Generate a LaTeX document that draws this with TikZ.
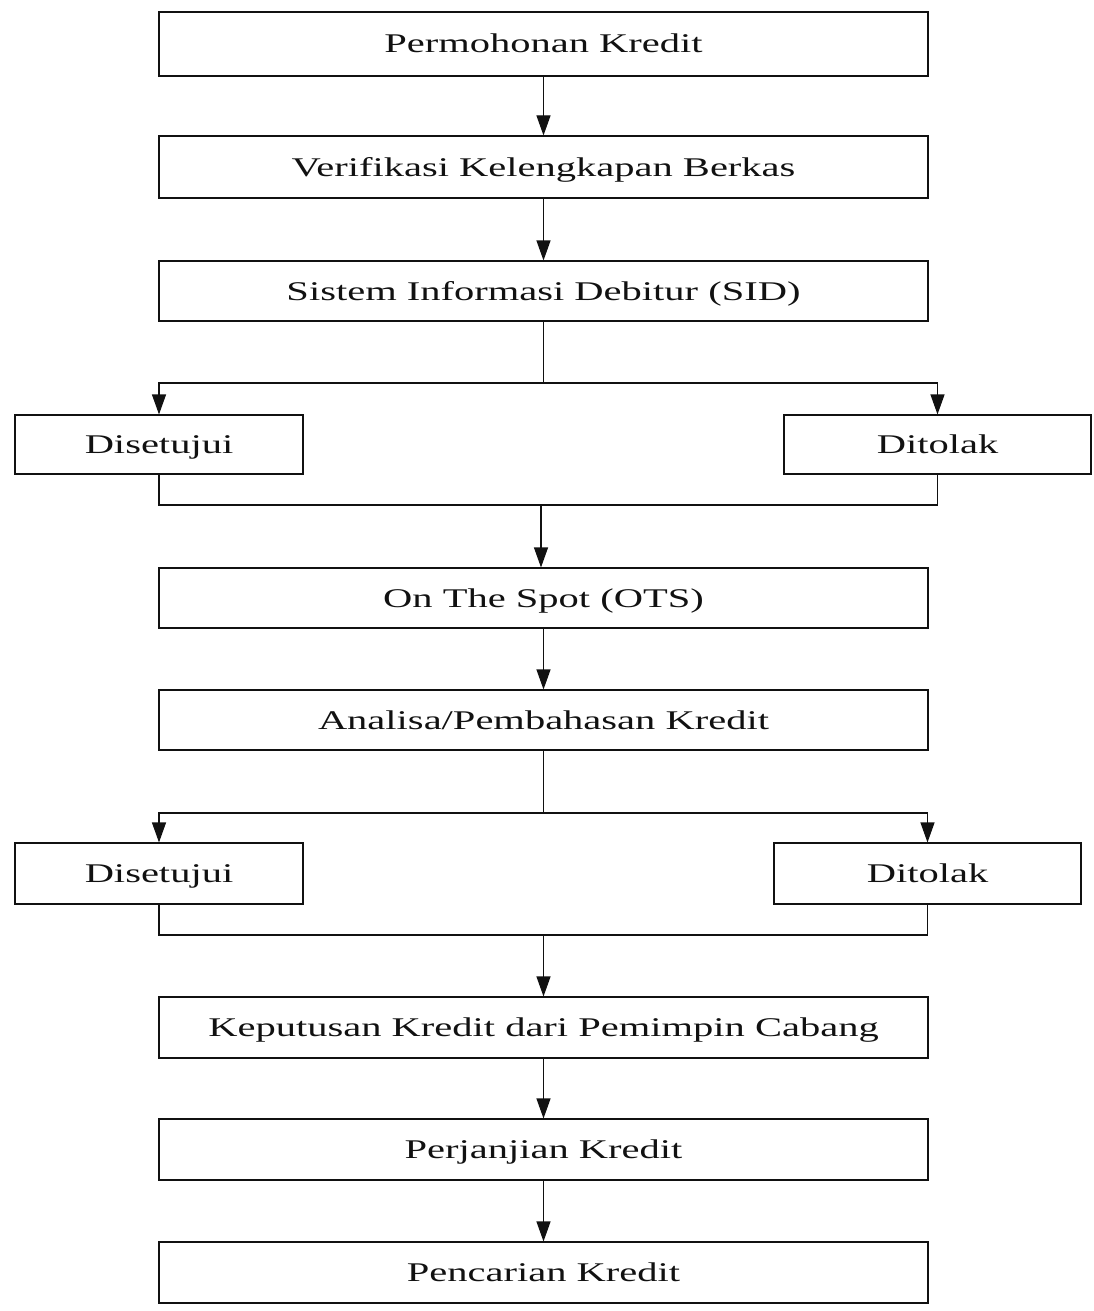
\documentclass[tikz,border=0pt]{standalone}
\usepackage{fontspec}
\setmainfont{Liberation Serif}
\newfontfamily\wideserif[FakeStretch=1.5]{Liberation Serif}
\usepackage{tikz}
\usetikzlibrary{arrows.meta,positioning,calc}
\definecolor{Ink}{HTML}{111111}
\tikzset{
  flow/.style={draw=Ink,line width=1.1pt,minimum height=61pt,inner sep=0pt,text height=24pt,text depth=6pt,align=center,text=Ink,font=\wideserif\fontsize{27}{30}\selectfont},
  flowwide/.style={flow,minimum width=769pt},
  flowside/.style={flow,minimum width=288pt},
  link/.style={draw=Ink,line width=1.1pt},
  arrow/.style={link,-{Triangle[length=20pt,width=14pt]}}
}
\begin{document}
\begin{tikzpicture}[x=1pt,y=-1pt,node distance=61pt]
  \useasboundingbox (0,0) rectangle (1094,1311);
  \node[flowwide,minimum height=64pt] (mohon) at (543.5,44) {Permohonan Kredit};
  \node[flowwide,minimum height=62pt] (verif) at (543.5,167) {Verifikasi Kelengkapan Berkas};
  \node[flowwide,minimum height=60pt] (sid) at (543.5,291) {Sistem Informasi Debitur (SID)};
  \node[flowside,minimum height=59pt] (setuja) at (159,444.5) {Disetujui};
  \node[flowside,minimum height=59pt,minimum width=307pt] (tolaka) at (937.5,444.5) {Ditolak};
  \node[flowwide,minimum height=60pt] (ots) at (543.5,598) {On The Spot (OTS)};
  \node[flowwide,minimum height=60pt] (analisa) at (543.5,720) {Analisa/Pembahasan Kredit};
  \node[flowside] (setujb) at (159,873.5) {Disetujui};
  \node[flowside,minimum width=307pt] (tolakb) at (927.5,873.5) {Ditolak};
  \node[flowwide] (putus) at (543.5,1027.5) {Keputusan Kredit dari Pemimpin Cabang};
  \node[flowwide] (janji) at (543.5,1149.5) {Perjanjian Kredit};
  \node[flowwide] (cair) at (543.5,1272.5) {Pencarian Kredit};
  % first branch
  \coordinate (pisaha) at (543.5,383);
  \coordinate (gabunga) at (541,505);
  \draw[arrow] (mohon) -- (verif);
  \draw[arrow] (verif) -- (sid);
  \draw[link] (sid.south) -- (pisaha);
  \draw[arrow] (pisaha) -| (setuja.north);
  \draw[arrow] (pisaha) -| (tolaka.north);
  \draw[link] (setuja.south) |- (gabunga) -| (tolaka.south);
  \draw[arrow] (gabunga) -- (gabunga |- ots.north);
  \draw[arrow] (ots) -- (analisa);
  % second branch
  \coordinate (pisahb) at (543.5,813);
  \coordinate (gabungb) at (543.5,935);
  \draw[link] (analisa.south) -- (pisahb);
  \draw[arrow] (pisahb) -| (setujb.north);
  \draw[arrow] (pisahb) -| (tolakb.north);
  \draw[link] (setujb.south) |- (gabungb) -| (tolakb.south);
  \draw[arrow] (gabungb) -- (putus.north);
  \draw[arrow] (putus) -- (janji);
  \draw[arrow] (janji) -- (cair);
\end{tikzpicture}
\end{document}
